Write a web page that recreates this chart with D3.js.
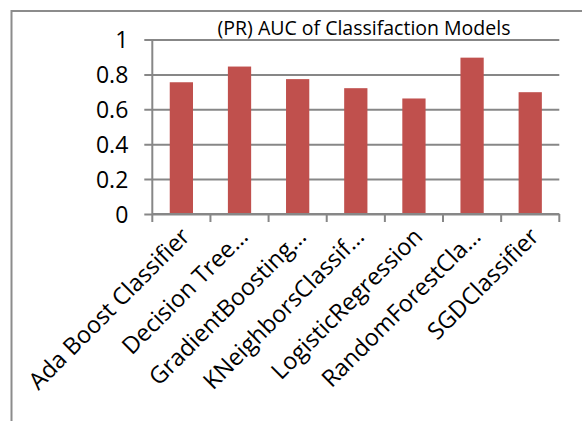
<!DOCTYPE html>
<html>
<head>
<meta charset="utf-8">
<script src="https://cdn.jsdelivr.net/npm/d3@7"></script>
<style>
  html, body { margin: 0; padding: 0; background: #fff; }
  svg { display: block; }
  text { font-family: "Open Sans", "Noto Sans", sans-serif; fill: #000; }
</style>
</head>
<body>
<svg id="chart" width="582" height="421"></svg>
<script>
// Precision-recall AUC per classifier
const models = [
  "Ada Boost Classifier",
  "Decision Tree\u2026",
  "GradientBoosting\u2026",
  "KNeighborsClassif\u2026",
  "LogisticRegression",
  "RandomForestCla\u2026",
  "SGDClassifier"
];
const aucValues = [0.755, 0.845, 0.773, 0.721, 0.662, 0.896, 0.698];
const yTicks = [0, 0.2, 0.4, 0.6, 0.8, 1];
const chartTitle = "(PR) AUC of Classifaction Models";

const W = 582, H = 421;
const plot = { left: 152.3, right: 559.3, top: 39.5, bottom: 214 };
const gridColor = "#878787";
const barColor = "#C0504D";

const svg = d3.select("#chart");

// outer chart frame (left and top edges visible)
svg.append("path")
  .attr("d", `M11.5,${H} V11 H${W}`)
  .attr("fill", "none")
  .attr("stroke", "#8c8c8c")
  .attr("stroke-width", 2);

const x = d3.scaleBand()
  .domain(models)
  .range([plot.left, plot.right])
  .paddingInner(0.6)
  .paddingOuter(0.3);

const y = d3.scaleLinear()
  .domain([0, 1])
  .range([plot.bottom, plot.top]);

// horizontal gridlines with short outward ticks
const yAxis = d3.axisLeft(y)
  .tickValues(yTicks)
  .tickFormat(d3.format("~g"))
  .tickSize(-(plot.right - plot.left))
  .tickSizeOuter(0)
  .tickPadding(24);

const gy = svg.append("g")
  .attr("transform", `translate(${plot.left},0)`)
  .call(yAxis);
gy.select(".domain").remove();
gy.selectAll(".tick line")
  .attr("x1", -8)
  .attr("stroke", gridColor)
  .attr("stroke-width", 2);
gy.selectAll(".tick text")
  .attr("x", -24)
  .attr("dy", "0.36em")
  .style("font-size", "23px")
  .style("font-family", "'Open Sans', sans-serif");

// vertical axis line
svg.append("line")
  .attr("x1", plot.left).attr("x2", plot.left)
  .attr("y1", plot.top).attr("y2", plot.bottom)
  .attr("stroke", gridColor)
  .attr("stroke-width", 2);

// bars
svg.append("g")
  .selectAll("rect")
  .data(models)
  .join("rect")
  .attr("x", d => x(d))
  .attr("width", x.bandwidth())
  .attr("y", (d, i) => y(aucValues[i]))
  .attr("height", (d, i) => y(0) - y(aucValues[i]))
  .attr("fill", barColor);

// category axis: ticks between categories
const boundaries = d3.range(models.length + 1).map(i => plot.left + i * (plot.right - plot.left) / models.length);
const gx = svg.append("g");
gx.append("line")
  .attr("x1", plot.left).attr("x2", plot.right)
  .attr("y1", plot.bottom).attr("y2", plot.bottom)
  .attr("stroke", gridColor)
  .attr("stroke-width", 2);
gx.selectAll("line.tk")
  .data(boundaries)
  .join("line")
  .attr("class", "tk")
  .attr("x1", d => d).attr("x2", d => d)
  .attr("y1", plot.bottom).attr("y2", plot.bottom + 8)
  .attr("stroke", gridColor)
  .attr("stroke-width", 2);

// rotated category labels
gx.selectAll("text")
  .data(models)
  .join("text")
  .attr("text-anchor", "end")
  .attr("transform", d => `translate(${x(d) + x.bandwidth() / 2 + 10},${plot.bottom + 24}) rotate(-45)`)
  .style("font-size", "23.5px")
  .text(d => d);

// title
svg.append("text")
  .attr("x", 364)
  .attr("y", 35)
  .attr("text-anchor", "middle")
  .style("font-size", "19.5px")
  .text(chartTitle);
</script>
</body>
</html>
